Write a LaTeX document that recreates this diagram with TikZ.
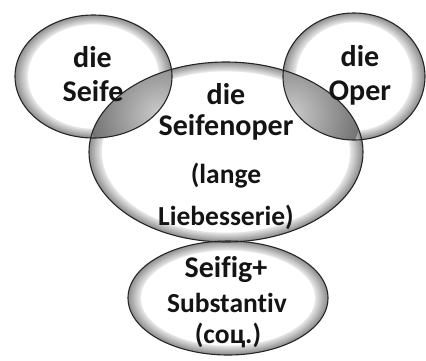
\documentclass[tikz,border=0pt]{standalone}
\usepackage{fontspec}
\setmainfont{Carlito}[Ligatures={NoCommon}]
\usetikzlibrary{calc}
\newcommand\bevelring[4]{% centre x, centre y, x radius, y radius
  \foreach \k in {0,...,12}{%
    \pgfmathsetmacro\shadeval{44-\k*2.9}%
    \fill[black!\shadeval] (#1,#2) ellipse [x radius={#3-\k}, y radius={#4-0.72*\k}];
  }%
  \fill[white] (#1,#2) ellipse [x radius={#3-13}, y radius={#4-9.4}];
}
\newcommand\lensfill[9]{% ellipse A (cx,cy,rx,ry), ellipse B (cx,cy,rx,ry), shading radius
  \begin{scope}
    \clip (#1,#2) ellipse [x radius=#3, y radius=#4];
    \clip (#5,#6) ellipse [x radius=#7, y radius=#8];
    \shade[inner color=black!20, outer color=black!55]
      ($(#1,#2)!0.5!(#5,#6)$) circle [radius=#9];
  \end{scope}
}
\begin{document}
\begin{tikzpicture}[x=1pt,y=-1pt,
  rim/.style={draw=black!85, line width=1.1pt},
  bigword/.style={anchor=base, text=black!92, font=\fontsize{30}{30}\selectfont\bfseries},
  smallword/.style={anchor=base, text=black!92, font=\fontsize{27.5}{28}\selectfont\bfseries}]
  \useasboundingbox[fill=white] (0,0) rectangle (426,360);

  % bevelled rings with white interiors
  \bevelring{93.5}{76.5}{78.5}{61.5}
  \bevelring{354}{76.5}{71}{63.5}
  \bevelring{226}{152}{137}{90}
  \bevelring{228}{298}{100}{57}

  % shaded overlaps
  \lensfill{93.5}{76.5}{78.5}{61.5}{226}{152}{137}{90}{70}
  \lensfill{354}{76.5}{71}{63.5}{226}{152}{137}{90}{70}
  \lensfill{228}{298}{100}{57}{226}{152}{137}{90}{60}

  % outlines
  \draw[rim] (93.5,76.5) ellipse [x radius=78.5, y radius=61.5];
  \draw[rim] (354,76.5) ellipse [x radius=71, y radius=63.5];
  \draw[rim] (226,152) ellipse [x radius=137, y radius=90];
  \draw[rim] (228,298) ellipse [x radius=100, y radius=57];

  % labels
  \node[bigword] (seifeA) at (92.5,67) {die};
  \node[bigword] (seifeB) at (93,101) {Seife};
  \node[bigword] (operA) at (360,66) {die};
  \node[bigword] (operB) at (360,100) {Oper};
  \node[bigword] (soapA) at (226,104) {die};
  \node[bigword] (soapB) at (226,135) {Seifenoper};
  \node[smallword] (soapC) at (226,183) {(lange};
  \node[smallword] (soapD) at (226,225) {Liebesserie)};
  \node[bigword] (adjA) at (226,277) {Seifig+};
  \node[smallword] (adjB) at (227,312) {Substantiv};
  \node[smallword] (adjC) at (228,343) {(соц.)};
\end{tikzpicture}
\end{document}
